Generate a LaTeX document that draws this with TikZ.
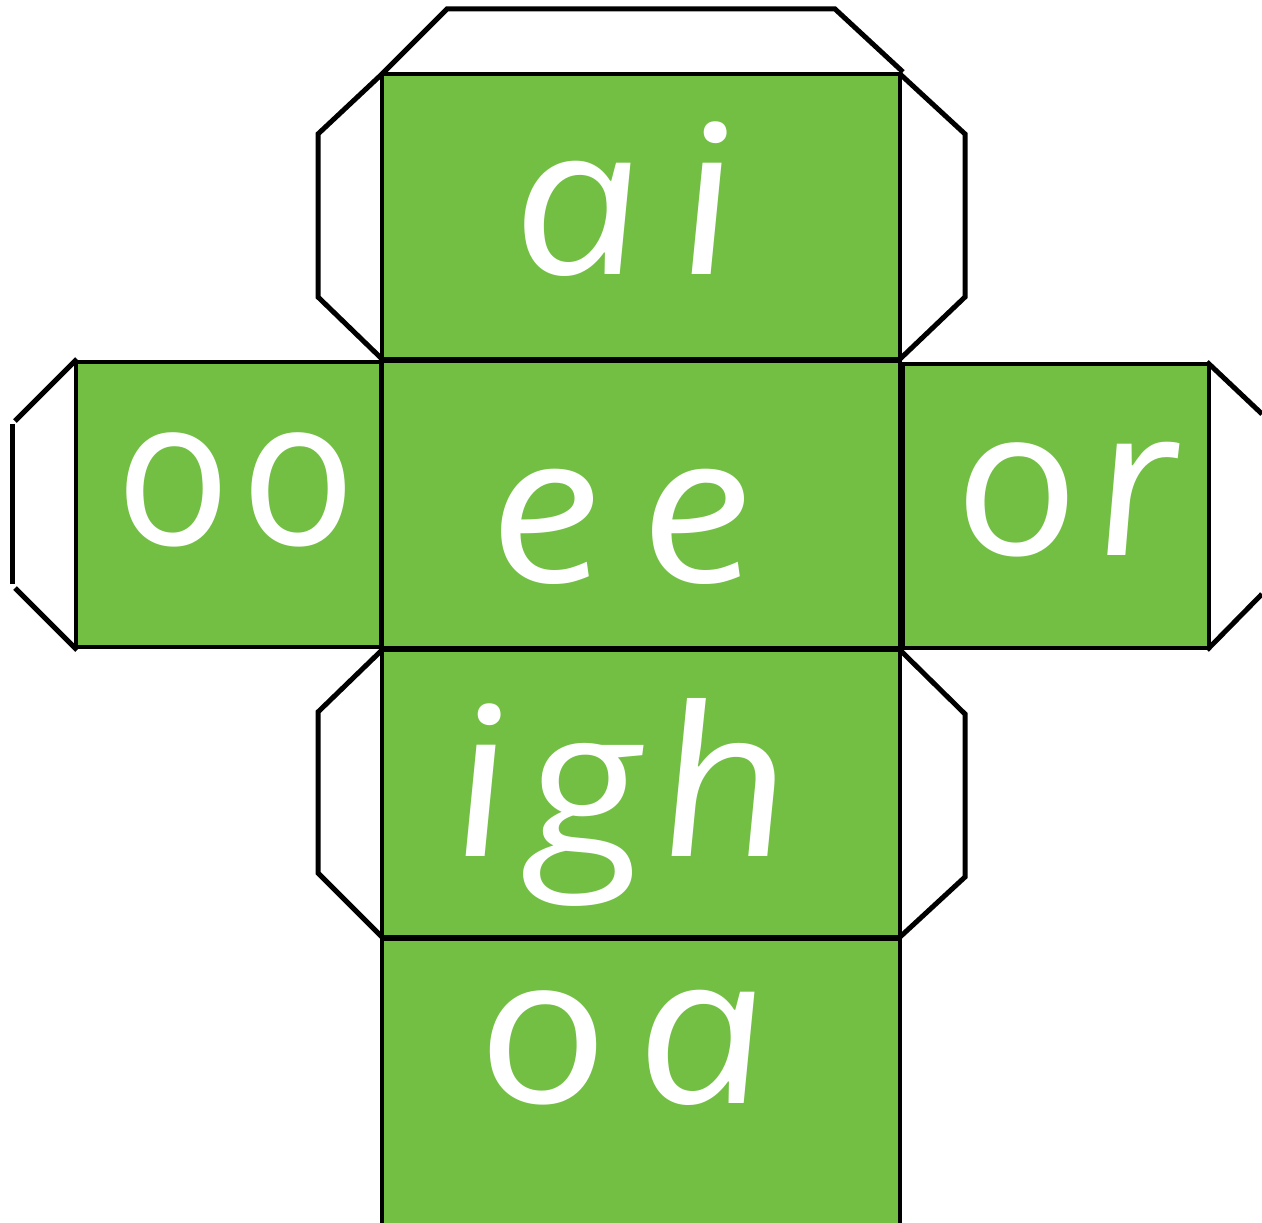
\documentclass[tikz,border=0pt]{standalone}
\usepackage{fontspec}
\newfontfamily\kidfont{Open Sans}
\definecolor{facegreen}{RGB}{114,191,68}
\tikzset{
  face/.style={draw=black, fill=facegreen, line width=4pt},
  tab/.style={draw=black, line width=5pt, line join=miter},
  lbl/.style={anchor=base, text=white, inner sep=0pt, xslant=-0.14, xscale=1.12, transform shape,
    font=\kidfont\itshape\fontsize{208}{208}\selectfont}
}
\begin{document}
\begin{tikzpicture}[x=1pt,y=-1pt]
\useasboundingbox (0,0) rectangle (1262,1223);
\begin{scope}
\clip (0,0) rectangle (1262,1223);
% tabs
\draw[tab] (382,74) -- (447,9) -- (835,9) -- (903,72);
\draw[tab] (382,74) -- (318,134) -- (318,297) -- (382,359);
\draw[tab] (900,74) -- (965,134) -- (965,297) -- (900,359);
\draw[tab] (77,359) -- (15,421);
\draw[tab] (12,424) -- (12,584);
\draw[tab] (15,588) -- (77,650);
\draw[tab] (1207,362) -- (1262,414);
\draw[tab] (1207,650) -- (1262,594);
\draw[tab] (382,650) -- (318,712) -- (318,873) -- (382,937);
\draw[tab] (900,650) -- (965,714) -- (965,877) -- (900,937);
% faces
\path[face] (382,74) rectangle (900,359);
\path[face] (382,361) rectangle (900,648);
\path[face] (382,650) rectangle (900,937);
\path[face] (382,939) rectangle (900,1240);
\path[face] (76,362) rectangle (381,647);
\path[face] (903,364) rectangle (1209,648);
\end{scope}
% labels
\node[lbl] (ai) at (632,274) {a\kern30pt i};
\node[lbl] (ee) at (630,582) {e\kern32pt e};
\node[lbl, xscale=0.88] (oo) at (244,545) {o\kern10pt o};
\node[lbl, xscale=0.95] (or) at (1076,555) {o\kern14pt r};
\node[lbl] (igh) at (630,856) {i\kern12pt g\kern12pt h};
\node[lbl] (oa) at (630,1103) {o\kern24pt a};
\end{tikzpicture}
\end{document}
